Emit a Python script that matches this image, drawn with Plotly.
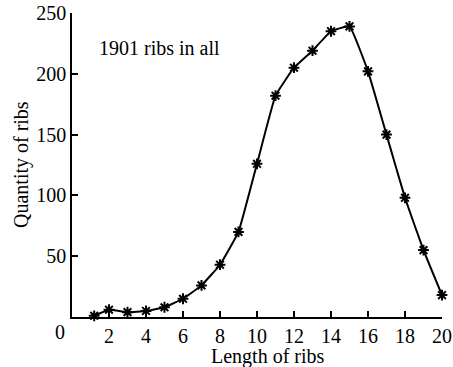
import plotly.graph_objects as go

lengths = [1.2, 2, 3, 4, 5, 6, 7, 8, 9, 10, 11, 12, 13, 14, 15, 16, 17, 18, 19, 20]
quantities = [1, 6, 4, 5, 8, 15, 26, 43, 70, 126, 182, 205, 219, 235, 239, 202, 150, 98, 55, 18]
x_ticks = [2, 4, 6, 8, 10, 12, 14, 16, 18, 20]
y_ticks = [50, 100, 150, 200, 250]

FONT = "Liberation Serif, Times New Roman, serif"

W, H = 453, 367
L, T = 72, 13
R = W - 442
B = H - 317
pw = W - L - R
ph = H - T - B


def px(xp):
    return (xp - L) / pw


def py(yp):
    return (H - B - yp) / ph


fig = go.Figure()
fig.add_trace(go.Scatter(
    x=lengths, y=quantities, mode="lines+markers",
    line=dict(color="black", width=2, shape="spline", smoothing=0.3),
    marker=dict(symbol="asterisk-open", size=9, color="black",
                line=dict(color="black", width=2)),
    showlegend=False, cliponaxis=False,
))

axis_common = dict(ticks="inside", ticklen=6, tickwidth=1.5, tickcolor="black",
                   showline=True, linecolor="black", linewidth=1.5,
                   showgrid=False, zeroline=False, automargin=False,
                   tickfont=dict(size=20))

fig.update_layout(
    width=W, height=H,
    margin=dict(l=L, r=R, t=T, b=B),
    paper_bgcolor="white", plot_bgcolor="white",
    font=dict(family=FONT, size=20, color="black"),
    xaxis=dict(range=[0, 20], tickvals=x_ticks, **axis_common),
    yaxis=dict(range=[0, 250], tickvals=y_ticks, **axis_common),
    annotations=[
        dict(text="1901 ribs in all", x=px(97), y=py(48), xref="paper", yref="paper",
             xanchor="left", yanchor="middle", showarrow=False, font=dict(size=20)),
        dict(text="0", x=px(60), y=py(332), xref="paper", yref="paper",
             xanchor="center", yanchor="middle", showarrow=False, font=dict(size=20)),
        dict(text="Length of ribs", x=px(268), y=py(356), xref="paper", yref="paper",
             xanchor="center", yanchor="middle", showarrow=False, font=dict(size=20)),
        dict(text="Quantity of ribs", x=px(21), y=py(165), xref="paper", yref="paper",
             xanchor="center", yanchor="middle", textangle=-90, showarrow=False,
             font=dict(size=20)),
    ],
)

# remove the default 8px page margin so the figure fills the window exactly
fig.write_html("out.html", config={"displayModeBar": False},
               post_script="document.body.style.margin='0';document.body.style.overflow='hidden';")
